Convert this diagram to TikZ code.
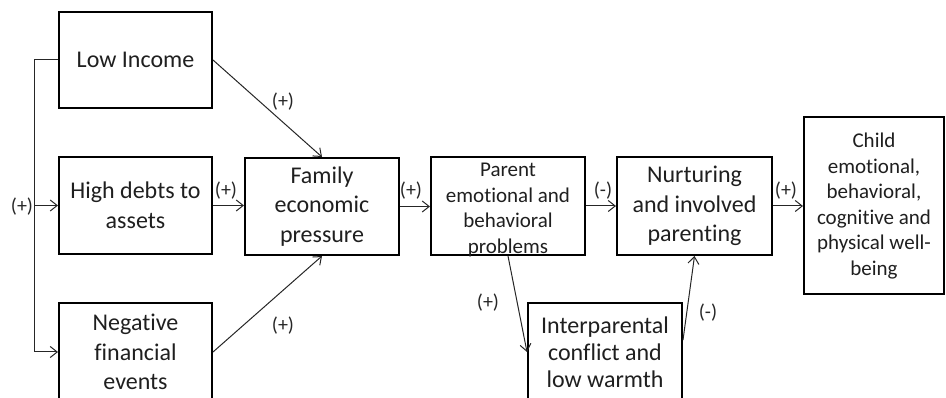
\documentclass[tikz,border=0pt]{standalone}
\usepackage{fontspec}
\setmainfont{Carlito}[Ligatures=NoCommon]
\usetikzlibrary{arrows.meta,calc}
\begin{document}
\begin{tikzpicture}[x=1pt,y=-1pt,
  box/.style={draw=black,line width=2pt,inner sep=0pt,align=center,
    font=\fontsize{24}{29.5}\selectfont,text=black!88},
  smalltxt/.style={inner sep=0pt,align=center,
    font=\fontsize{21}{25.5}\selectfont,text=black!88},
  wire/.style={draw=black!85,line width=1pt},
  arr/.style={wire,-{Straight Barb[length=7pt,width=11pt]}},
  lbl/.style={inner sep=0pt,font=\fontsize{20}{22}\selectfont,text=black!85}]
\useasboundingbox (0,0) rectangle (946,398);
\clip (0,0) rectangle (946,398);

% boxes of the model
\node[box,minimum width=153pt,minimum height=96pt] (low) at (135.5,60) {Low Income};
\node[box,minimum width=153pt,minimum height=97pt] (debts) at (135.5,205.5) {High debts to\\assets};
\node[box,minimum width=153pt,minimum height=98pt] (neg) at (135.5,352) {Negative\\financial\\events};
\node[box,minimum width=154pt,minimum height=97pt] (fam) at (322,206.5) {Family\\economic\\pressure};
\node[box,minimum width=154pt,minimum height=98pt] (par) at (508,206) {};
\node[smalltxt] (partext) at (508,210) {Parent\\emotional and\\behavioral\\problems};
\node[box,minimum width=155pt,minimum height=98pt] (nurt) at (694.5,206) {Nurturing\\and involved\\parenting};
\node[box,minimum width=140pt,minimum height=177pt] (child) at (874,205.5) {};
\node[smalltxt] (childtext) at (874,206) {Child\\emotional,\\behavioral,\\cognitive and\\physical well-\\being};
\node[box,font=\fontsize{24}{27}\selectfont,minimum width=154pt,minimum height=98pt] (inter) at (605,352) {Interparental\\conflict and\\low warmth};

% bracket feeding the three economic conditions
\coordinate (bus) at (34,0);
\draw[arr] (low.west) -| (bus |- neg.west) -- (neg.west);
\draw[arr] (bus |- debts.west) -- (debts.west);
\node[lbl] (lbus) at (22,207) {(+)};

% paths
\draw[arr] (low.east) -- (fam.north);
\draw[arr] (debts.east) -- (debts.east -| fam.west);
\draw[arr] (neg.east) -- (fam.south);
\draw[arr] (fam.east) -- (fam.east -| par.west);
\draw[arr] (par.east) -- (nurt.west);
\draw[arr] (nurt.east) -- (nurt.east -| child.west);
\draw[arr] (par.south) -- (inter.west);
\draw[arr] ($(inter.north east)!0.38!(inter.south east)$) -- (nurt.south);

% path signs
\node[lbl] (l1) at (283,102) {(+)};
\node[lbl] (l2) at (226,191) {(+)};
\node[lbl] (l3) at (283,326) {(+)};
\node[lbl] (l4) at (411,191) {(+)};
\node[lbl] (l5) at (603,191) {(-)};
\node[lbl] (l6) at (786,191) {(+)};
\node[lbl] (l7) at (488,303) {(+)};
\node[lbl] (l8) at (708,313) {(-)};
\end{tikzpicture}
\end{document}
